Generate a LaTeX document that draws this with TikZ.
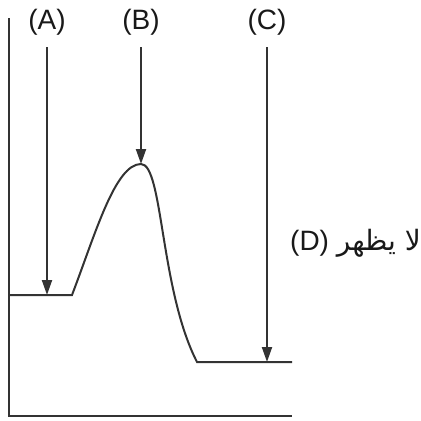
\documentclass[tikz,border=0pt]{standalone}
\usepackage{fontspec}
\setmainfont{Liberation Sans}
\newfontfamily\arabicfont[Script=Arabic]{DejaVu Sans}
\TeXXeTstate=1
\usetikzlibrary{arrows.meta}
\begin{document}
\begin{tikzpicture}[x={(1pt,0)},y={(0,-1pt)},
  ln/.style={line width=2pt,draw=black!80,line join=miter},
  arr/.style={ln,-{Triangle[length=15pt,width=10pt]}},
  lbl/.style={font=\fontsize{28}{30}\selectfont,text=black!90,inner sep=0pt}]
\useasboundingbox (0,0) rectangle (421,421);
% axes
\coordinate (axtop) at (9,18);
\coordinate (orig) at (9,416);
\coordinate (axright) at (292,416);
\draw[ln] (axtop) -- (orig) -- (axright);
% energy profile
\coordinate (l0) at (9,295);
\coordinate (l1) at (72,295);
\coordinate (peak) at (141,164);
\coordinate (r0) at (197,362);
\coordinate (r1) at (292,362);
\draw[ln] (l0) -- (l1) .. controls (95,235) and (115,164) .. (peak)
  .. controls (163,164) and (160,290) .. (r0) -- (r1);
% labels
\node[lbl] (A) at (47,22) {(A)};
\node[lbl] (B) at (141,22) {(B)};
\node[lbl] (C) at (267,22) {(C)};
\coordinate (As) at (47,47);
\coordinate (Bs) at (141,47);
\coordinate (Cs) at (267,47);
\coordinate (Ae) at (47,295);
\coordinate (Ce) at (267,362);
\draw[arr] (As) -- (Ae);
\draw[arr] (Bs) -- (peak);
\draw[arr] (Cs) -- (Ce);
\node[lbl,anchor=west] (D) at (290,243) {(D) {\arabicfont\beginR لا يظهر\endR}};
\end{tikzpicture}
\end{document}
